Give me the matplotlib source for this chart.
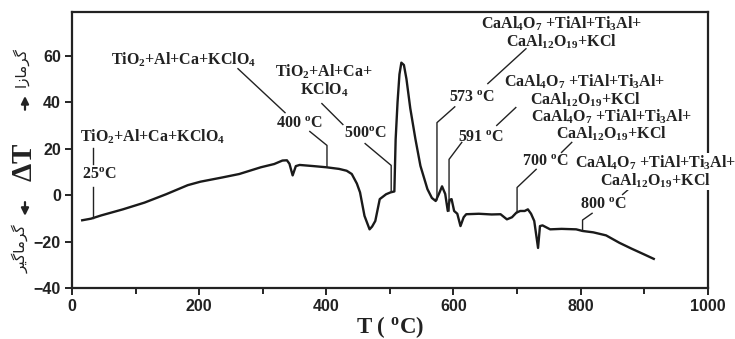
import matplotlib.pyplot as plt
import numpy as np
from matplotlib.patches import FancyArrowPatch
from matplotlib.ticker import MultipleLocator

plt.rcParams['mathtext.fontset'] = 'custom'
plt.rcParams['mathtext.rm'] = 'Liberation Serif:bold'
plt.rcParams['mathtext.bf'] = 'Liberation Serif:bold'
plt.rcParams['mathtext.it'] = 'Liberation Serif:bold'

# DTA curve
temp = [16, 30, 46, 80, 114, 148, 182, 202, 236, 263, 297, 318, 331, 338, 342, 347,
        352, 358, 380, 400, 420, 432, 440, 448, 453, 460, 468, 472, 477, 484, 494, 501,
        507, 509, 512, 515, 518, 522, 526, 532, 540, 548, 559, 566, 572, 577, 582, 587,
        591, 594, 597, 601, 606, 611, 616, 620, 640, 660, 674, 684, 692, 699, 705, 712,
        717, 722, 727, 733, 736, 740, 752, 770, 793, 803, 820, 840, 861, 880, 900, 915]
delta_t = [-10.8, -10.1, -8.7, -6.1, -3.2, 0.4, 4.3, 5.8, 7.6, 9.1, 12.0, 13.4, 14.9, 15.0, 13.5, 8.5,
           12.5, 13.0, 12.5, 12.0, 11.3, 10.5, 9.1, 5.0, 1.2, -8.9, -14.7, -13.5, -11.1, -1.7, 0.4, 1.2,
           1.6, 24, 40, 52, 57, 56, 50, 37.4, 24.3, 12.6, 2.6, -1.2, -2.5, 0.5, 3.8, 0.5,
           -6.8, -2.0, -1.7, -6.8, -8.0, -13.3, -9.5, -8.2, -8.0, -8.3, -8.2, -10.4, -9.5, -7.5, -6.8, -6.8,
           -6.1, -8.0, -11.1, -22.7, -13.3, -13.0, -14.7, -14.5, -14.7, -15.4, -16.0, -17.3, -20.5, -23.0, -25.5, -27.4]

phase_a = r'TiO$_2$+Al+Ca+KClO$_4$'
phase_b = r'TiO$_2$+Al+Ca+' + '\n' + r'KClO$_4$'
phase_c = r'CaAl$_4$O$_7$ +TiAl+Ti$_3$Al+' + '\n' + r'CaAl$_{12}$O$_{19}$+KCl'
temp_labels = [r'25$^{\mathrm{o}}$C', r'400 $^{\mathrm{o}}$C', r'500$^{\mathrm{o}}$C',
               r'573 $^{\mathrm{o}}$C', r'591 $^{\mathrm{o}}$C', r'700 $^{\mathrm{o}}$C',
               r'800 $^{\mathrm{o}}$C']

fig = plt.figure(figsize=(7.35, 3.39), dpi=100)
ax = fig.add_axes([0.098, 0.150, 0.865, 0.816])
ax.plot(temp, delta_t, color='#1a1a1a', lw=1.7)

ax.set_xlim(0, 1000)
ax.set_ylim(-40, 79)
ax.xaxis.set_major_locator(MultipleLocator(200))
ax.xaxis.set_minor_locator(MultipleLocator(100))
ax.set_yticks(np.arange(-40, 61, 20))
for s in ax.spines.values():
    s.set_linewidth(1.6)
    s.set_color('#222222')
ax.tick_params(which='both', direction='out', width=1.2, length=5, labelsize=11.5, pad=3)
ax.tick_params(which='minor', length=4)
for lab in ax.get_xticklabels() + ax.get_yticklabels():
    lab.set_fontfamily('Liberation Sans')
    lab.set_fontweight('bold')
    lab.set_color('#222222')

serif = dict(family='Liberation Serif', fontweight='bold', fontsize=11.5, color='#222222')

def seg(xs, ys):
    ax.plot(xs, ys, color='#222222', lw=1.0, clip_on=False)

# 25 C
ax.text(12, 25.2, phase_a, ha='left', va='center', **serif)
seg([33, 33], [20.1, 13.6])
ax.text(15, 8.5, temp_labels[0], ha='left', va='center', **serif)
seg([33, 33], [3.3, -9.8])

# 400 C
ax.text(176, 58.3, phase_a, ha='center', va='center', **serif)
seg([261, 335], [54.4, 35.5])
ax.text(358, 30.8, temp_labels[1], ha='center', va='center', **serif)
seg([374, 401, 401], [27.4, 21.4, 12.0])

# 500 C
ax.text(396, 49.3, phase_b, ha='center', va='center', linespacing=0.95, **serif)
seg([393, 426], [39.4, 30.4])
ax.text(461, 26.5, temp_labels[2], ha='center', va='center', **serif)
seg([461, 502, 502], [22.2, 12.8, 1.4])

# 573 C
ax.text(770, 69.9, phase_c, ha='center', va='center', linespacing=0.95, **serif)
seg([714, 654], [63, 48])
ax.text(629, 42, temp_labels[3], ha='center', va='center', **serif)
seg([602, 574, 574], [38, 31.2, -2.0])

# 591 C
ax.text(807, 45, phase_c, ha='center', va='center', linespacing=0.95, **serif)
seg([698, 668], [37.7, 30])
ax.text(643, 24.8, temp_labels[4], ha='center', va='center', **serif)
seg([613, 593, 593], [22.7, 15.4, -6.8])

# 700 C
ax.text(849, 30, phase_c, ha='center', va='center', linespacing=0.95, **serif)
seg([786, 770], [22.7, 18.4])
ax.text(744, 14.1, temp_labels[5], ha='center', va='center', **serif)
seg([730, 700, 700], [11.1, 3.3, -7.5])

# 800 C (runs over the right spine)
ax.text(918, 10.2, phase_c, ha='center', va='center', linespacing=0.95, clip_on=False,
        bbox=dict(facecolor='white', edgecolor='none', pad=0.5), zorder=5, **serif)
seg([877, 866], [2.9, 0.3])
ax.text(835, -4.4, temp_labels[6], ha='center', va='center', **serif)
seg([818, 803, 803], [-7.8, -10.7, -15.3])

ax.set_xlabel(r'T ( $^{\mathrm{o}}$C)', family='Liberation Serif', fontweight='bold',
              fontsize=16.5, color='#222222', labelpad=0)

# y label: Persian words, arrows and Delta T
exo = '\uFE8D\uFEAF\uFE8E\uFEE3\uFEAE\uFB94'
endo = '\uFEAE\uFBFF\uFB94\uFE8E\uFEE3\uFEAE\uFB94'
fig.text(0.027, 0.802, exo, rotation=90, ha='center', va='center', fontsize=11,
         family='DejaVu Sans', color='#222222')
fig.text(0.027, 0.265, endo, rotation=90, ha='center', va='center', fontsize=11,
         family='DejaVu Sans', color='#222222')
fig.text(0.033, 0.522, r'$\Delta$T', rotation=90, ha='center', va='center', fontsize=21,
         family='Liberation Serif', fontweight='bold', color='#222222')
arrow = dict(arrowstyle='-|>', color='#222222', lw=1.6, mutation_scale=11)
fig.add_artist(FancyArrowPatch((0.034, 0.668), (0.034, 0.725), transform=fig.transFigure, **arrow))
fig.add_artist(FancyArrowPatch((0.034, 0.412), (0.034, 0.355), transform=fig.transFigure, **arrow))

fig.savefig('out.png', dpi=100)
